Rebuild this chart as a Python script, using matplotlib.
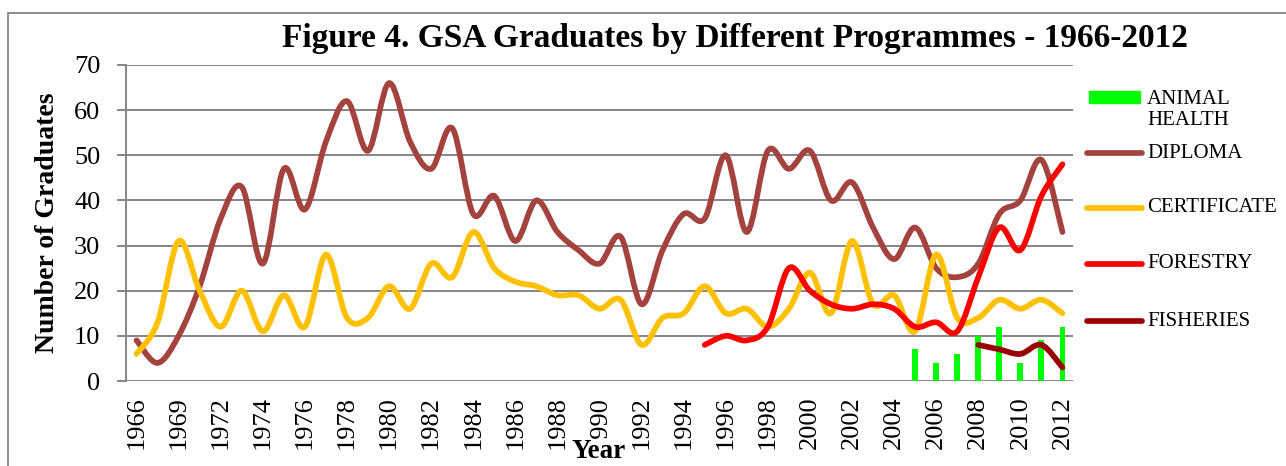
import matplotlib
matplotlib.use("Agg")
from matplotlib import pyplot as plt
from matplotlib.path import Path
from matplotlib.patches import PathPatch, Rectangle
from matplotlib.lines import Line2D

# Categories (only every other one gets a label on the chart)
years = ["1966", "1967", "1969", "1970"] + [str(y) for y in range(1972, 2013)]

diploma = [9, 4, 10, 21, 36, 43, 26, 47, 38, 53, 62, 51, 66, 53, 47, 56, 37, 41,
           31, 40, 33, 29, 26, 32, 17, 29, 37, 36, 50, 33, 51, 47, 51, 40, 44,
           34, 27, 34, 25, 23, 26, 37, 40, 49, 33]
certificate = [6, 13, 31, 20, 12, 20, 11, 19, 12, 28, 14, 14, 21, 16, 26, 23, 33,
               25, 22, 21, 19, 19, 16, 18, 8, 14, 15, 21, 15, 16, 12, 16, 24, 15,
               31, 17, 19, 11, 28, 14, 14, 18, 16, 18, 15]
# Forestry starts in 1995, fisheries in 2008, animal health in 2005
forestry_years = [str(y) for y in range(1995, 2013)]
forestry = [8, 10, 9, 12, 25, 20, 17, 16, 17, 16, 12, 13, 11, 23, 34, 29, 41, 48]
fisheries_years = ["2008", "2009", "2010", "2011", "2012"]
fisheries = [8, 7, 6, 8, 3]
animal_years = ["2005", "2006", "2007", "2008", "2009", "2010", "2011", "2012"]
animal_health = [7, 4, 6, 10, 12, 4, 9, 12]


def smooth_path(xs, ys):
    # Excel-like smoothed line: cubic bezier through every point
    pts = list(zip(xs, ys))
    verts = [pts[0]]
    codes = [Path.MOVETO]
    for i in range(len(pts) - 1):
        p0 = pts[i - 1] if i > 0 else pts[i]
        p1 = pts[i]
        p2 = pts[i + 1]
        p3 = pts[i + 2] if i + 2 < len(pts) else pts[i + 1]
        c1 = (p1[0] + (p2[0] - p0[0]) / 6, p1[1] + (p2[1] - p0[1]) / 6)
        c2 = (p2[0] - (p3[0] - p1[0]) / 6, p2[1] - (p3[1] - p1[1]) / 6)
        verts += [c1, c2, p2]
        codes += [Path.CURVE4] * 3
    return Path(verts, codes)


def idx(labels):
    return [years.index(y) for y in labels]


plt.rcParams["font.family"] = ["Liberation Serif", "DejaVu Serif"]

fig = plt.figure(figsize=(12.86, 4.66), dpi=100)
ax = fig.add_axes([126 / 1286, 1 - 381 / 466, 947 / 1286, 316 / 466])

grid_col = "#868686"
lw = 4.1

ax.bar(idx(animal_years), animal_health, width=0.28, color="#00FF00", zorder=2)

series = [
    (list(range(len(years))), diploma, "#A4423D"),
    (list(range(len(years))), certificate, "#FFC000"),
    (idx(forestry_years), forestry, "#FF0000"),
    (idx(fisheries_years), fisheries, "#990000"),
]
for xs, ys, col in series:
    ax.add_patch(PathPatch(smooth_path(xs, ys), fill=False, edgecolor=col, lw=lw,
                           capstyle="round", joinstyle="round", zorder=3))

ax.set_xlim(-0.5, len(years) - 0.5)
ax.set_ylim(0, 70)
ax.set_yticks(range(0, 71, 10))
ax.set_xticks(range(0, len(years), 2))
ax.set_xticklabels(years[::2], rotation=90)
ax.tick_params(axis="y", length=6.5, width=1.4, color=grid_col, pad=12, labelsize=19)
ax.tick_params(axis="x", length=0, pad=11, labelsize=19)
ax.grid(axis="y", color=grid_col, linewidth=1.4, zorder=0)
ax.set_axisbelow(True)
for side in ["top", "right", "bottom"]:
    ax.spines[side].set_visible(False)
ax.spines["left"].set_color(grid_col)
ax.spines["left"].set_linewidth(1.4)
ax.spines["left"].set_zorder(1)

ax.set_ylabel("Number of Graduates", fontsize=20, fontweight="bold")
ax.yaxis.set_label_coords(-0.0697, 0.5)
# axis title sits on top of the tick labels, with a white box like Excel
fig.text(599 / 1286, 1 - 452 / 466, "Year", fontsize=19.5, fontweight="bold",
         ha="center", va="center", zorder=5,
         bbox=dict(facecolor="white", edgecolor="none", pad=0.5))
fig.text(735 / 1286, 1 - 38 / 466,
         "Figure 4. GSA Graduates by Different Programmes - 1966-2012",
         fontsize=24, fontweight="bold", ha="center", va="center")

# Outer chart border (right and bottom edges lie outside the picture)
fig.add_artist(Rectangle((8 / 1286, -0.2), 1.2, 1.2 - 13 / 466, transform=fig.transFigure,
                         fill=False, edgecolor=grid_col, lw=1.3))

# Legend on the right, drawn by hand to keep Excel's spacing
leg_x0, leg_x1, txt_x = 1087 / 1286, 1142 / 1286, 1147 / 1286
fig.add_artist(Rectangle((1089 / 1286, 1 - 103 / 466), 51 / 1286, 12 / 466,
                         transform=fig.transFigure, color="#00FF00"))
fig.text(txt_x, 1 - 110 / 466, "ANIMAL\nHEALTH", fontsize=15, va="center",
         linespacing=1.1)
legend_rows = [("DIPLOMA", "#A4423D", 153), ("CERTIFICATE", "#FFC000", 208),
               ("FORESTRY", "#FF0000", 264), ("FISHERIES", "#990000", 321)]
for name, col, ypix in legend_rows:
    yy = 1 - ypix / 466
    fig.add_artist(Line2D([leg_x0, leg_x1], [yy, yy], transform=fig.transFigure,
                          color=col, lw=lw, solid_capstyle="round"))
    fig.text(txt_x, yy, name, fontsize=15, va="center")

fig.savefig("out.png", dpi=100)
